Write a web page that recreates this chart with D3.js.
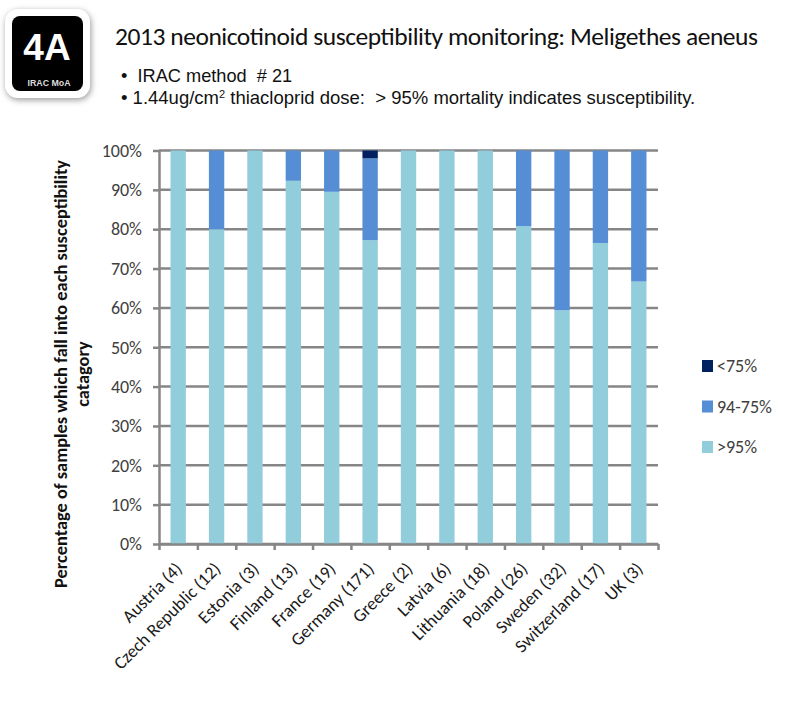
<!DOCTYPE html>
<html>
<head>
<meta charset="utf-8">
<script src="https://cdn.jsdelivr.net/npm/d3@7"></script>
<style>
  html, body { margin: 0; padding: 0; background: #fff; }
  svg { display: block; }
</style>
</head>
<body>
<script>
var w = 792;
var h = 711;

var categories = ["Austria (4)", "Czech Republic (12)", "Estonia (3)", "Finland (13)", "France (19)",
  "Germany (171)", "Greece (2)", "Latvia (6)", "Lithuania (18)", "Poland (26)", "Sweden (32)",
  "Switzerland (17)", "UK (3)"];
var above95 = [100, 80, 100, 92.3, 89.5, 77.2, 100, 100, 100, 80.8, 59.4, 76.5, 66.7];
var mid = [0, 20, 0, 7.7, 10.5, 20.8, 0, 0, 0, 19.2, 40.6, 23.5, 33.3];
var below75 = [0, 0, 0, 0, 0, 2, 0, 0, 0, 0, 0, 0, 0];
var seriesNames = [">95%", "94-75%", "<75%"];
var seriesColors = ["#92cddc", "#558ed5", "#002060"];
var yTicks = [0, 10, 20, 30, 40, 50, 60, 70, 80, 90, 100];

var svg = d3.select("body").append("svg")
  .attr("width", w)
  .attr("height", h)
  .style("background-color", "white");

var x = d3.scaleBand().domain(categories).range([159, 658]).paddingInner(0.6).paddingOuter(0.3);
var xEdge = d3.scaleLinear().domain([0, categories.length]).range([159, 658]);
var y = d3.scaleLinear().domain([0, 100]).range([544, 150.5]);

var labelFont = "Carlito, 'Open Sans', sans-serif";

// grid sits behind the bars
svg.append("g")
  .selectAll("line")
  .data(yTicks)
  .join("line")
  .attr("x1", 159)
  .attr("x2", 658)
  .attr("y1", d => y(d))
  .attr("y2", d => y(d))
  .attr("stroke", "#868686")
  .attr("stroke-width", 2.5);

// stacked bars
var rows = categories.map(function (c, i) {
  return { cat: c, ">95%": above95[i], "94-75%": mid[i], "<75%": below75[i] };
});
var stacked = d3.stack().keys(seriesNames)(rows);

svg.selectAll("g.series")
  .data(stacked)
  .join("g")
  .attr("class", "series")
  .attr("fill", (d, i) => seriesColors[i])
  .selectAll("rect")
  .data(d => d)
  .join("rect")
  .attr("x", d => x(d.data.cat))
  .attr("width", x.bandwidth())
  .attr("y", d => y(d[1]))
  .attr("height", d => y(d[0]) - y(d[1]));

// y axis
var yAxis = svg.append("g")
  .attr("transform", "translate(159,0)")
  .call(d3.axisLeft(y).tickValues(yTicks).tickFormat(d => d + "%").tickSize(6).tickSizeOuter(0).tickPadding(11));
yAxis.selectAll("path, line").attr("stroke", "#868686").attr("stroke-width", 2.5);
yAxis.selectAll("text")
  .attr("fill", "#404040")
  .style("font-family", labelFont)
  .style("font-size", "18px");

// x axis ticks at the band edges
var xTicks = svg.append("g")
  .attr("transform", "translate(0,544)")
  .call(d3.axisBottom(xEdge).tickValues(d3.range(categories.length + 1)).tickFormat("").tickSize(6).tickSizeOuter(0));
xTicks.selectAll("path, line").attr("stroke", "#868686").attr("stroke-width", 2.5);

// x labels
var xAxis = svg.append("g")
  .attr("transform", "translate(0,544)")
  .call(d3.axisBottom(x).tickSize(0).tickPadding(0));
xAxis.select("path").remove();
xAxis.selectAll("text")
  .attr("text-anchor", "end")
  .attr("dy", 0)
  .attr("y", 0)
  .attr("transform", "translate(5,26) rotate(-45)")
  .attr("fill", "#1a1a1a")
  .style("font-family", labelFont)
  .style("font-size", "18px");

// y axis title
var yTitle = svg.append("text")
  .attr("transform", "translate(67,374) rotate(-90)")
  .attr("text-anchor", "middle")
  .attr("fill", "#111")
  .style("font-family", labelFont)
  .style("font-size", "18.4px")
  .style("font-weight", "bold");
yTitle.append("tspan").attr("x", 0).attr("dy", 0).text("Percentage of samples which fall into each susceptibility");
yTitle.append("tspan").attr("x", 0).attr("dy", 22).text("catagory");

// legend
var legendY = d3.scalePoint().domain(seriesNames).range([447, 366]);
var legend = svg.selectAll("g.legend")
  .data(seriesNames)
  .join("g")
  .attr("class", "legend")
  .attr("transform", d => "translate(702," + legendY(d) + ")");
legend.append("rect")
  .attr("y", -6)
  .attr("width", 11)
  .attr("height", 12)
  .attr("fill", (d, i) => seriesColors[i]);
legend.append("text")
  .attr("x", 15)
  .attr("y", 6)
  .attr("fill", "#404040")
  .style("font-family", labelFont)
  .style("font-size", "18px")
  .text(d => d);

// header text
svg.append("text")
  .attr("x", 115)
  .attr("y", 45)
  .attr("fill", "#111")
  .attr("textLength", 643)
  .style("font-family", labelFont)
  .style("font-size", "25.5px")
  .text("2013 neonicotinoid susceptibility monitoring: Meligethes aeneus");

var bulletFont = "'Liberation Sans', Arial, sans-serif";
svg.append("text")
  .attr("x", 121)
  .attr("y", 82)
  .attr("fill", "#111")
  .style("white-space", "pre")
  .style("font-family", bulletFont)
  .style("font-size", "18.2px")
  .text("•  IRAC method  # 21");
var sub = svg.append("text")
  .attr("x", 121)
  .attr("y", 104)
  .attr("fill", "#111")
  .style("white-space", "pre")
  .style("font-family", bulletFont)
  .style("font-size", "18.5px");
sub.append("tspan").text("• 1.44ug/cm");
sub.append("tspan").attr("dy", -6).style("font-size", "11px").text("2");
sub.append("tspan").attr("dy", 6).text(" thiacloprid dose:  > 95% mortality indicates susceptibility.");

// 4A badge
var defs = svg.append("defs");
var blur = defs.append("filter").attr("id", "glow").attr("x", "-20%").attr("y", "-20%").attr("width", "140%").attr("height", "140%");
blur.append("feDropShadow").attr("dx", 1).attr("dy", 2).attr("stdDeviation", 3).attr("flood-color", "#999");
svg.append("rect")
  .attr("x", 5)
  .attr("y", 9)
  .attr("width", 85)
  .attr("height", 89)
  .attr("rx", 13)
  .attr("fill", "white")
  .attr("filter", "url(#glow)");
svg.append("rect")
  .attr("x", 12)
  .attr("y", 16)
  .attr("width", 71)
  .attr("height", 75)
  .attr("rx", 8)
  .attr("fill", "black");
svg.append("text")
  .attr("x", 47)
  .attr("y", 60)
  .attr("text-anchor", "middle")
  .attr("fill", "white")
  .style("font-family", bulletFont)
  .style("font-weight", "bold")
  .style("font-size", "37px")
  .text("4A");
svg.append("text")
  .attr("x", 49)
  .attr("y", 86)
  .attr("text-anchor", "middle")
  .attr("fill", "#ddd")
  .style("font-family", bulletFont)
  .style("font-weight", "bold")
  .style("font-size", "8.8px")
  .text("IRAC MoA");
</script>
</body>
</html>
